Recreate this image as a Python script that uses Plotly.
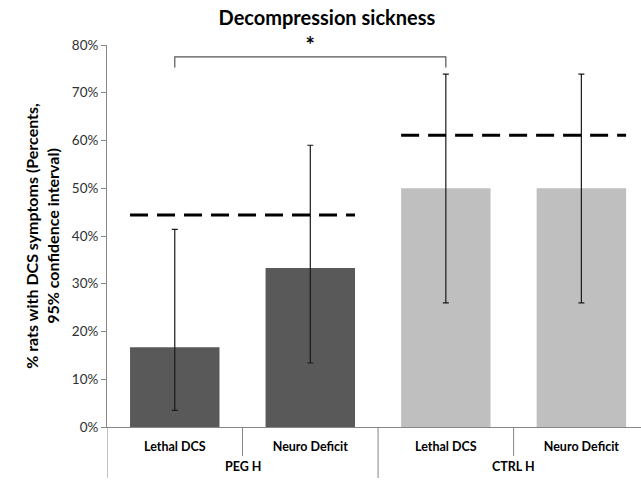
import plotly.graph_objects as go

groups = ["PEG H", "PEG H", "CTRL H", "CTRL H"]
measures = ["Lethal DCS", "Neuro Deficit", "Lethal DCS", "Neuro Deficit"]
values = [16.7, 33.3, 50.0, 50.0]
ci_low = [3.5, 13.4, 26.0, 26.0]
ci_high = [41.4, 59.0, 73.9, 73.9]
bar_colors = ["#595959", "#595959", "#BFBFBF", "#BFBFBF"]

# dashed reference levels per group (x spans in category index units)
dash_levels = [44.4, 61.1]
dash_spans = [(0, 1), (2, 3)]

# significance bracket between category 0 and 2
bracket_from, bracket_to = 0, 2
bracket_top, bracket_leg = 77.5, 75.3
star_y = 79.4

yticks = [0, 10, 20, 30, 40, 50, 60, 70, 80]

FONT = "Lato"
BAR_W = 0.66
XRANGE = [-0.5, 3.44]
PLOT_H = 481 - 45 - 54

xpos = list(range(len(measures)))

fig = go.Figure()

fig.add_trace(go.Bar(
    x=xpos, y=values,
    marker=dict(color=bar_colors, line=dict(width=0)),
    width=BAR_W,
    error_y=dict(type="data", symmetric=False,
                 array=[h - v for h, v in zip(ci_high, values)],
                 arrayminus=[v - l for l, v in zip(ci_low, values)],
                 color="#1a1a1a", thickness=1.2, width=3),
    customdata=[f"{g} – {m}" for g, m in zip(groups, measures)],
    hovertemplate="%{customdata}: %{y}%<extra></extra>",
    showlegend=False,
))

for lvl, (a, b) in zip(dash_levels, dash_spans):
    fig.add_trace(go.Scatter(
        x=[a - BAR_W / 2, b + BAR_W / 2], y=[lvl, lvl],
        mode="lines", line=dict(color="black", width=3.2, dash="18px,9px"),
        showlegend=False, hoverinfo="skip",
    ))

fig.add_trace(go.Scatter(
    x=[bracket_from, bracket_from, bracket_to, bracket_to],
    y=[bracket_leg, bracket_top, bracket_top, bracket_leg],
    mode="lines", line=dict(color="#555555", width=1.2), showlegend=False, hoverinfo="skip",
))
fig.add_trace(go.Scatter(
    x=[(bracket_from + bracket_to) / 2], y=[star_y],
    mode="text", text=["*"], textposition="middle center", cliponaxis=False,
    textfont=dict(family=FONT, size=22, color="black", weight="bold"),
    showlegend=False, hoverinfo="skip",
))

# group labels and separators below the axis
group_names = list(dict.fromkeys(groups))
for gname in group_names:
    idx = [i for i, g in enumerate(groups) if g == gname]
    fig.add_annotation(x=sum(idx) / len(idx), xref="x", y=-(467 - 427) / PLOT_H, yref="paper",
                       text=f"<b>{gname}</b>", showarrow=False, yanchor="middle",
                       font=dict(family=FONT, size=12.5, color="black"))
    # full-height divider at the left edge of each group
    fig.add_shape(type="line", xref="x", yref="paper", x0=idx[0] - 0.5, x1=idx[0] - 0.5,
                  y0=0, y1=-(478 - 427) / PLOT_H, line=dict(color="#868686", width=1))
    # short separators between categories inside the group
    for i in idx[1:]:
        fig.add_shape(type="line", xref="x", yref="paper", x0=i - 0.5, x1=i - 0.5,
                      y0=0, y1=-(456 - 427) / PLOT_H, line=dict(color="#868686", width=1))

fig.update_layout(
    width=641, height=481,
    margin=dict(l=107, r=0, t=45, b=54, autoexpand=False),
    paper_bgcolor="white", plot_bgcolor="white",
    font=dict(family=FONT, color="black"),
    title=dict(text="<b>Decompression sickness</b>", x=0.51, xanchor="center",
               y=1 - 18 / 481, yanchor="middle", yref="container",
               font=dict(family=FONT, size=20, color="black")),
    xaxis=dict(range=XRANGE, tickvals=xpos, ticktext=[f"<b>{m}</b>" for m in measures],
               showline=True, linecolor="#868686", linewidth=1,
               ticks="outside", ticklen=8, tickcolor="rgba(0,0,0,0)",
               showgrid=False, zeroline=False, automargin=False,
               tickfont=dict(family=FONT, size=12.5, color="black")),
    yaxis=dict(range=[0, 80], tickvals=yticks, ticktext=[f"{t}%" for t in yticks],
               ticks="outside", ticklen=5, tickcolor="#868686", showline=True,
               linecolor="#868686", linewidth=1, showgrid=False, zeroline=False,
               automargin=False,
               tickfont=dict(family=FONT, size=13.5, color="#303030"),
               title=dict(text="<b>% rats with DCS symptoms (Percents,<br>95% confidence interval)</b>",
                          font=dict(family=FONT, size=16, color="black"), standoff=8)),
)

fig.write_html("out.html", config={"displayModeBar": False},
               post_script="document.body.style.margin='0';document.body.style.overflow='hidden';")
